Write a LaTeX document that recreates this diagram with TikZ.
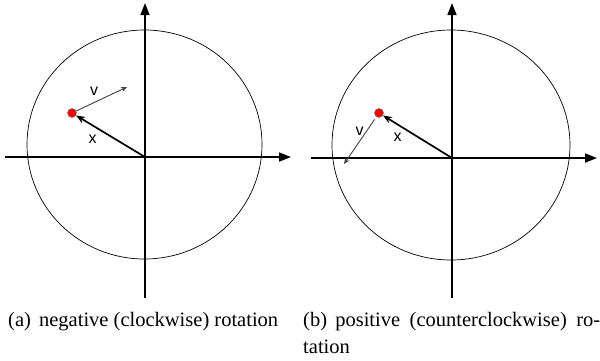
\documentclass[tikz,border=0pt]{standalone}
\usepackage{fontspec}
\setmainfont{Liberation Serif}
\newfontfamily\lblfont{Liberation Sans}
\usetikzlibrary{arrows.meta}
\begin{document}
\begin{tikzpicture}[x=1pt,y=-1pt,
  axis/.style={line width=1.7pt,-{Triangle[length=12pt,width=9pt]}},
  ring/.style={line width=0.7pt},
  posvec/.style={line width=1.7pt,-{Stealth[length=9pt,width=7pt]}},
  velvec/.style={line width=0.9pt,draw=black!75,-{Stealth[length=6pt,width=5pt]}},
  mass/.style={circle,fill=red,draw=black!60,line width=0.4pt,minimum size=9pt,inner sep=0pt},
  lbl/.style={font=\lblfont\fontsize{16}{18}\selectfont,inner sep=0pt},
  captext/.style={font=\fontsize{20.5}{27}\selectfont,inner sep=0pt,anchor=base west}]
\useasboundingbox (0,0) rectangle (600,360);
% left panel
\coordinate (oa) at (145,157);
\coordinate (aytop) at (145,3);
\coordinate (aybot) at (145,298);
\coordinate (axl) at (5,157);
\coordinate (axr) at (291,157);
\draw[ring] (144.5,144.5) ellipse [x radius=117.5, y radius=114.5];
\draw[axis] (aybot) -- (aytop);
\draw[axis] (axl) -- (axr);
\node[mass] (ma) at (72,113) {};
\coordinate (va) at (127,87);
\draw[posvec] (oa) -- (ma);
\draw[velvec] (ma) -- (va);
\node[lbl] (lva) at (94,91) {v};
\node[lbl] (lxa) at (92.5,139.5) {x};
% right panel
\coordinate (ob) at (452,158);
\coordinate (bytop) at (452,3);
\coordinate (bybot) at (452,298);
\coordinate (bxl) at (311,158);
\coordinate (bxr) at (597,158);
\draw[ring] (451,145) ellipse [x radius=119, y radius=115];
\draw[axis] (bybot) -- (bytop);
\draw[axis] (bxl) -- (bxr);
\node[mass] (mb) at (379,113) {};
\coordinate (vb) at (344,164);
\draw[posvec] (ob) -- (mb);
\draw[velvec,shorten <=3pt] (mb) -- (vb);
\node[lbl] (lvb) at (359.5,131) {v};
\node[lbl] (lxb) at (397.5,137.5) {x};
% captions
\node[captext] (capa) at (8,326) {(a)\hspace{0.4em}negative (clockwise) rotation};
\node[captext,text width=297pt,align=justify] (capb) at (303,326) {(b)\hspace{0.4em}positive (counterclockwise) ro-\linebreak tation};
\end{tikzpicture}
\end{document}
